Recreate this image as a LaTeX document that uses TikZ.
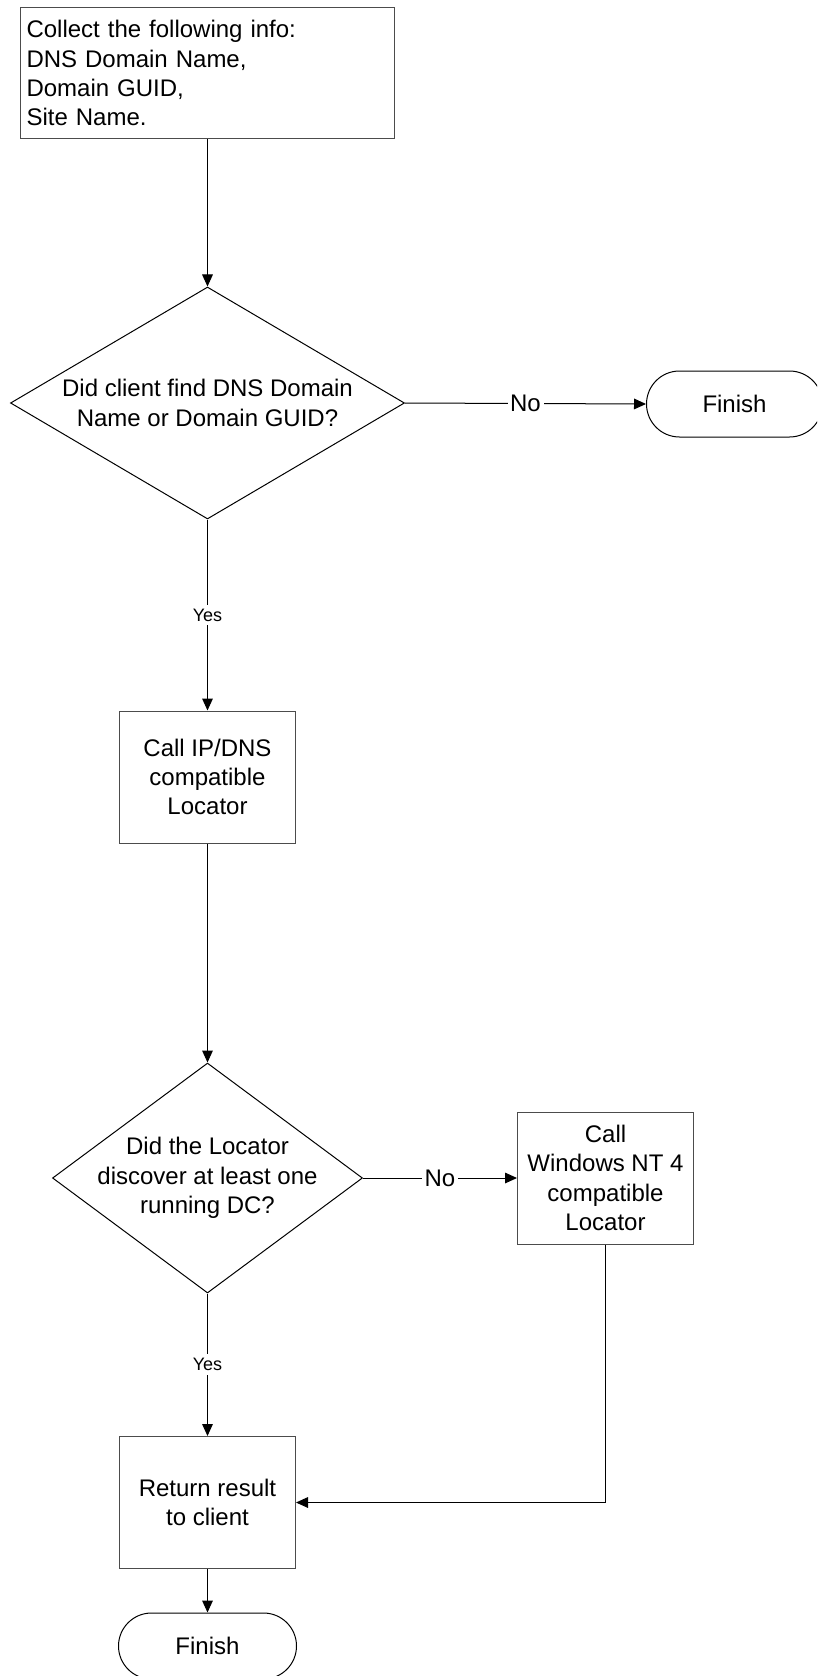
\documentclass[tikz,border=0pt]{standalone}
\usepackage{fontspec}
\setmainfont{Liberation Sans}
\usetikzlibrary{shapes.geometric,shapes.misc,arrows.meta}
\begin{document}
\begin{tikzpicture}[x=0.75pt,y=-0.75pt,
  every node/.style={font=\fontsize{18pt}{22pt}\selectfont, text=black},
  infobox/.style={rectangle, draw=black!70, line width=0.75pt,
    minimum width=280.5pt, minimum height=98.6pt,
    text width=271.5pt, align=left, inner sep=4.5pt},
  procbox/.style={rectangle, draw=black!70, line width=0.75pt,
    minimum width=132pt, minimum height=99pt, align=center, inner sep=0pt},
  decision/.style={diamond, draw=black, line width=0.75pt, inner sep=0pt},
  qtext/.style={align=center, inner sep=0pt},
  terminal/.style={rounded rectangle, draw=black, line width=0.75pt,
    minimum width=132pt, minimum height=49.5pt, inner sep=0pt},
  flow/.style={draw=black, line width=0.75pt, -{Triangle[length=9pt,width=8pt]}},
  nolabel/.style={fill=white, inner sep=2pt},
  yeslabel/.style={fill=white, inner sep=3pt, font=\fontsize{13.5pt}{16pt}\selectfont},
]
\useasboundingbox (0,0) rectangle (817,1676);
\clip (0,0) rectangle (817,1676);

% steps of the locator procedure
\node[infobox] (collect) at (207.5,73.25)
  {Collect the following info:\\DNS Domain Name,\\Domain GUID,\\Site Name.};

\node[decision, minimum width=295.5pt, minimum height=174pt] (q1) at (207.5,403) {};
\node[qtext] (q1text) at (q1.center) {Did client find DNS Domain\\Name or Domain GUID?};

\node[terminal] (end1) at (734.5,404) {Finish};

\node[procbox] (ipdns) at (207.5,777) {Call IP/DNS\\compatible\\Locator};

\node[decision, minimum width=232.5pt, minimum height=172.5pt] (q2) at (207.5,1178) {};
\node[qtext] (q2text) at (q2.center) {Did the Locator\\discover at least one\\running DC?};

\node[procbox] (nt4) at (605.5,1178) {Call\\Windows NT 4\\compatible\\Locator};

\node[procbox] (ret) at (207.5,1502.5) {Return result\\to client};

\node[terminal, minimum width=133.5pt] (end2) at (207.5,1646) {Finish};

% connectors
\draw[flow] (collect.south) -- (q1.north);
\draw[flow] (q1.east) -- node[nolabel]{No} (end1.west);
\draw[flow] (q1.south) -- node[yeslabel]{Yes} (ipdns.north);
\draw[flow] (ipdns.south) -- (q2.north);
\draw[flow] (q2.east) -- node[nolabel]{No} (nt4.west);
\draw[flow] (q2.south) -- node[yeslabel]{Yes} (ret.north);
\draw[flow] (nt4.south) |- (ret.east);
\draw[flow] (ret.south) -- (end2.north);
\end{tikzpicture}
\end{document}
